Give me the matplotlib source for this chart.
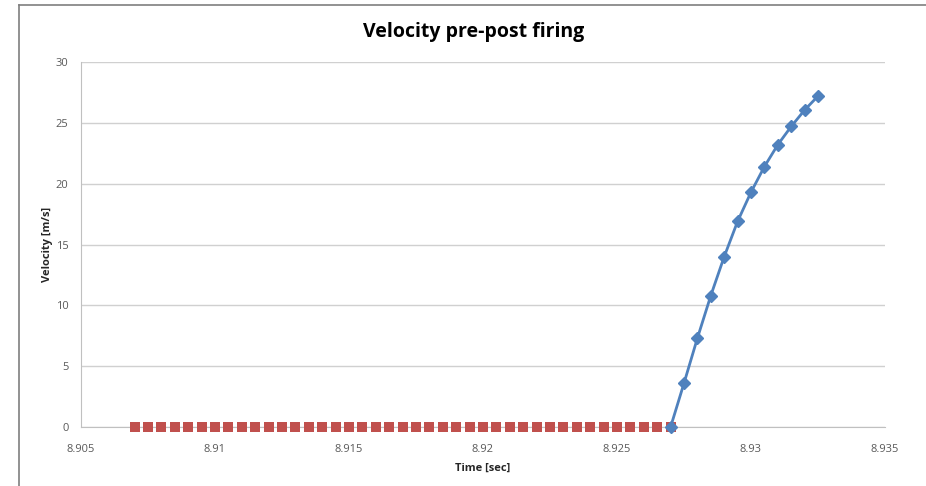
import matplotlib
matplotlib.use("Agg")
import matplotlib.pyplot as plt
from matplotlib.lines import Line2D

# pre-firing samples (red squares)
t_pre = [8.9070, 8.9075, 8.9080, 8.9085, 8.9090, 8.9095, 8.9100, 8.9105,
         8.9110, 8.9115, 8.9120, 8.9125, 8.9130, 8.9135, 8.9140, 8.9145,
         8.9150, 8.9155, 8.9160, 8.9165, 8.9170, 8.9175, 8.9180, 8.9185,
         8.9190, 8.9195, 8.9200, 8.9205, 8.9210, 8.9215, 8.9220, 8.9225,
         8.9230, 8.9235, 8.9240, 8.9245, 8.9250, 8.9255, 8.9260, 8.9265,
         8.9270]
v_pre = [0] * len(t_pre)

# post-firing samples (blue diamonds)
t_post = [8.9270, 8.9275, 8.9280, 8.9285, 8.9290, 8.9295,
          8.9300, 8.9305, 8.9310, 8.9315, 8.9320, 8.9325]
v_post = [0.0, 3.6, 7.3, 10.8, 14.0, 16.9,
          19.3, 21.4, 23.2, 24.7, 26.05, 27.2]

x_ticks = [8.905, 8.91, 8.915, 8.92, 8.925, 8.93, 8.935]
y_ticks = [0, 5, 10, 15, 20, 25, 30]

font = ['Open Sans', 'DejaVu Sans']
grey_text = '#595959'

fig = plt.figure(figsize=(9.26, 4.86), dpi=100)
ax = fig.add_axes([81 / 926, 1 - 427 / 486, 804 / 926, 365 / 486])

ax.plot(t_pre, v_pre, linestyle='none', marker='s', markersize=7.8,
        markeredgewidth=0, color='#C0504D', zorder=3, clip_on=False)
ax.plot(t_post, v_post, color='#4F81BD', linewidth=2, marker='D',
        markersize=6, zorder=4, clip_on=False)

ax.set_xlim(8.905, 8.935)
ax.set_ylim(0, 30)
ax.set_xticks(x_ticks)
ax.set_xticklabels([str(t) for t in x_ticks])
ax.set_yticks(y_ticks)
ax.grid(axis='y', color='#D0D0D0', linewidth=1)
ax.set_axisbelow(True)
for s in ['top', 'right']:
    ax.spines[s].set_visible(False)
for s in ['left', 'bottom']:
    ax.spines[s].set_color('#C0C0C0')
ax.tick_params(length=0, labelsize=8, labelcolor=grey_text)
ax.tick_params(axis='x', pad=12)
ax.tick_params(axis='y', pad=9)
for lbl in ax.get_xticklabels() + ax.get_yticklabels():
    lbl.set_family(font)

ax.set_xlabel('Time [sec]', fontsize=8, fontweight='bold', family=font,
              color='#262626', labelpad=6)
ax.set_ylabel('Velocity [m/s]', fontsize=8, fontweight='bold', family=font,
              color='#262626', labelpad=2)
fig.text(474 / 926, 1 - 32 / 486, 'Velocity pre-post firing', ha='center',
         va='center', fontsize=14, fontweight='bold', family=font)

# outer chart frame (left and top edges visible)
fig.add_artist(Line2D([18.5 / 926, 18.5 / 926], [0, 1 - 5.5 / 486],
                      color='#7F7F7F', linewidth=1.2))
fig.add_artist(Line2D([18.5 / 926, 1], [1 - 5.5 / 486, 1 - 5.5 / 486],
                      color='#7F7F7F', linewidth=1.2))

fig.savefig('out.png', dpi=100)
